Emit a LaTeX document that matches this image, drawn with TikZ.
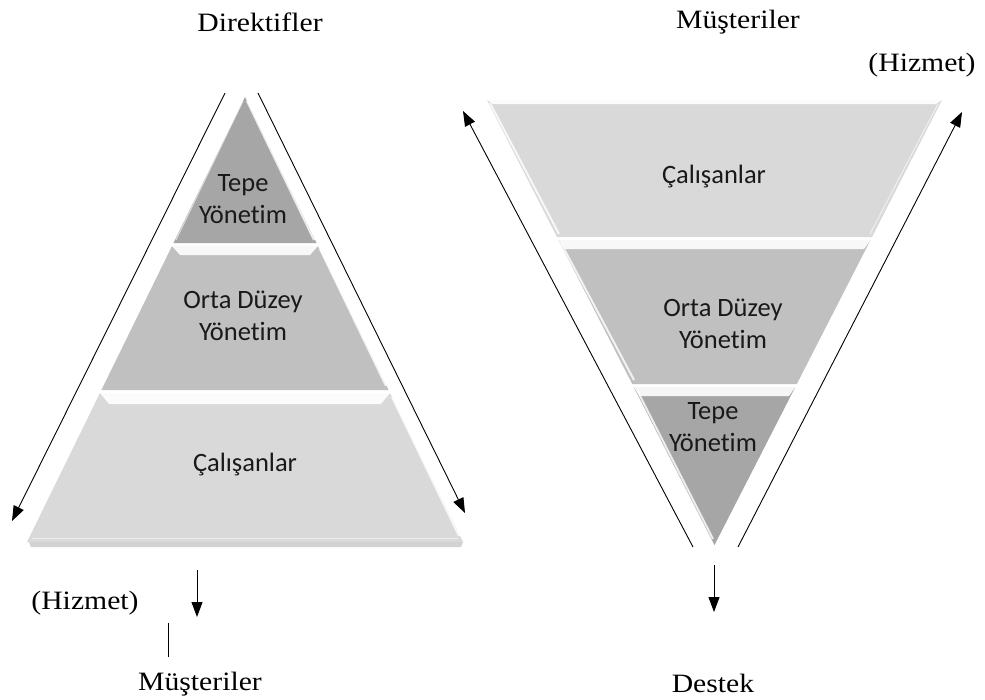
\documentclass[tikz,border=0pt]{standalone}
\usepackage{fontspec}
\setmainfont{Liberation Serif}
\newfontfamily\calib[Ligatures={NoCommon}]{Carlito}
\newfontfamily\serw[FakeStretch=1.12]{Liberation Serif}
\usetikzlibrary{arrows.meta}
\definecolor{gA}{RGB}{166,166,166}
\definecolor{gB}{RGB}{192,192,192}
\definecolor{gC}{RGB}{217,217,217}
\definecolor{txt}{RGB}{25,25,25}
\tikzset{
  seglbl/.style={font=\calib\fontsize{26.5}{32}\selectfont, text=txt, align=center, inner sep=0pt},
  outlbl/.style={font=\serw\fontsize{26.5}{30}\selectfont, text=black, inner sep=0pt},
  flow/.style={draw=black, line width=0.9pt, -{Triangle[length=15pt,width=11pt]}},
  bevel/.style={fill=white, fill opacity=0.9, draw=none},
  edgehl/.style={draw=white, line width=2pt, opacity=0.8},
}
\begin{document}
\begin{tikzpicture}[x=1pt,y=-1pt]
\useasboundingbox[fill=white] (0,0) rectangle (985,699);

% ---------- left pyramid ----------
% soft shadow
\fill[black!35, opacity=0.5] (29,542) -- (463,542) -- (461,547) -- (31,547) -- cycle;
% segment 1 (Tepe)
\fill[gA] (245,97) -- (316.5,243) -- (173.5,243) -- cycle;
% segment 2 (Orta)
\fill[gB] (172,246) -- (318,246) -- (388.6,390) -- (101.4,390) -- cycle;
% segment 3 (Calisanlar)
\fill[gC] (100,393) -- (390,393) -- (463,542) -- (27,542) -- cycle;
% bevels
\fill[bevel] (172,246) -- (318,246) -- (310,255) -- (180,255) -- cycle;
\fill[bevel] (100,393) -- (390,393) -- (381,404) -- (109,404) -- cycle;
\draw[edgehl] (247,101) -- (314,240);
\draw[edgehl] (320,249) -- (386,386);
\draw[edgehl] (392,397) -- (459,536);
\draw[draw=white, line width=1pt, opacity=0.6] (243,101) -- (176,240);
\draw[draw=white, line width=1pt, opacity=0.6] (32,538) -- (458,538);

% labels inside
\node[seglbl] (lt) at (243,199) {Tepe\\Yönetim};
\node[seglbl] (lo) at (243,316) {Orta Düzey\\Yönetim};
\node[seglbl] (lc) at (245,465) {Çalışanlar};

% arrows along sides
\coordinate (la1) at (225,93);
\coordinate (la2) at (12,521);
\coordinate (lb1) at (258,93);
\coordinate (lb2) at (465,513);
\draw[flow] (la1) -- (la2);
\draw[flow] (lb1) -- (lb2);

% outer labels
\node[outlbl] (dir) at (260,22) {Direktifler};
\node[outlbl] (lhiz) at (85,603) {(Hizmet)};
\node[outlbl] (lmus) at (200,684) {Müşteriler};
\coordinate (ld1) at (197,570);
\coordinate (ld2) at (197,617);
\draw[flow] (ld1) -- (ld2);
\coordinate (lv1) at (168,623);
\coordinate (lv2) at (168,657);
\draw[black, line width=0.9pt] (lv1) -- (lv2);

% ---------- right inverted pyramid ----------
% segment 1 (Calisanlar)
\fill[gC] (487,100) -- (942,100) -- (872,237) -- (557,237) -- cycle;
% segment 2 (Orta)
\fill[gB] (558.5,240) -- (870.5,240) -- (796.8,384) -- (632.2,384) -- cycle;
% segment 3 (Tepe)
\fill[gA] (633.7,387) -- (795.3,387) -- (714.5,545) -- cycle;
% bevels
\fill[bevel] (487,100) -- (942,100) -- (936,104) -- (493,104) -- cycle;
\fill[bevel] (558.5,240) -- (870.5,240) -- (864,249) -- (565,249) -- cycle;
\fill[bevel] (633.7,387) -- (795.3,387) -- (789,396) -- (640,396) -- cycle;
\draw[edgehl] (490,103) -- (559,234);
\draw[edgehl] (561,243) -- (634,380);
\draw[edgehl] (637,390) -- (713,539);
\draw[draw=white, line width=1pt, opacity=0.6] (938,104) -- (870,234);

% labels inside
\node[seglbl] (rc) at (714,177) {Çalışanlar};
\node[seglbl] (ro) at (723,324) {Orta Düzey\\Yönetim};
\node[seglbl] (rt) at (713,427) {Tepe\\Yönetim};

% arrows along sides
\coordinate (ra1) at (693,547);
\coordinate (ra2) at (463,111);
\coordinate (rb1) at (738,547);
\coordinate (rb2) at (962,112);
\draw[flow] (ra1) -- (ra2);
\draw[flow] (rb1) -- (rb2);

% outer labels
\node[outlbl] (rmus) at (738,22) {Müşteriler};
\node[outlbl] (rhiz) at (922,65) {(Hizmet)};
\node[outlbl] (rdes) at (713,683) {Destek};
\coordinate (rd1) at (714,565);
\coordinate (rd2) at (714,612);
\draw[flow] (rd1) -- (rd2);
\end{tikzpicture}
\end{document}
